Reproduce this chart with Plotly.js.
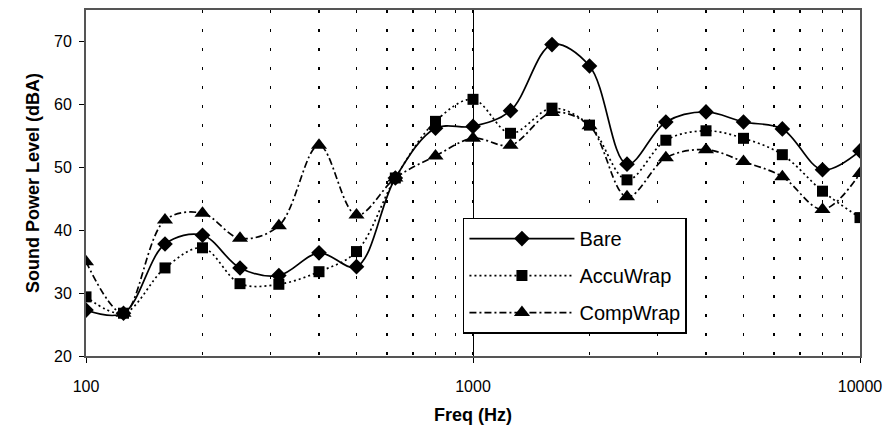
<!DOCTYPE html>
<html><head><meta charset="utf-8">
<script src="https://cdn.plot.ly/plotly-3.0.1.min.js"></script>
<style>body{margin:0;background:#fff}#c{width:890px;height:433px}</style>
</head><body><div id="c"></div>
<script>
const freq = [100,125,160,200,250,315,400,500,630,800,1000,1250,1600,2000,2500,3150,4000,5000,6300,8000,10000];
const bare = [27.3,26.8,37.8,39.2,34.0,32.8,36.4,34.2,48.3,56.2,56.5,59.0,69.5,66.1,50.5,57.2,58.8,57.2,56.1,49.6,52.6];
const accuWrap = [29.4,26.8,34.0,37.2,31.5,31.4,33.4,36.6,48.3,57.3,60.8,55.4,59.4,56.7,48.0,54.3,55.8,54.6,52.0,46.2,42.0];
const compWrap = [35.0,26.8,41.6,42.7,38.7,40.7,53.5,42.4,48.3,51.8,54.6,53.5,58.7,56.6,45.3,51.5,52.8,50.9,48.5,43.3,49.0];
const names = ['Bare','AccuWrap','CompWrap'];

const font = 'Arial, "Liberation Sans", sans-serif';
function tr(y, name, sym, size, dash){
  return {x: freq, y: y, name: name, legendgroup: name, type: 'scatter', mode: 'lines+markers',
    line: {color: '#000', width: 1.7, shape: 'spline', smoothing: 1, dash: dash},
    marker: {symbol: sym, size: size, color: '#000'}};
}
const data = [
  tr(bare, names[0], 'diamond', 12, 'solid'),
  tr(accuWrap, names[1], 'square', 11, '2px,3px'),
  tr(compWrap, names[2], 'triangle-up', 14, '7px,3px,2px,3px')
];
const layout = {
  width: 890, height: 433,
  margin: {l: 86, r: 30, t: 10, b: 77},
  paper_bgcolor: '#fff', plot_bgcolor: '#fff',
  font: {family: font, color: '#000', size: 16},
  showlegend: true,
  legend: {x: 0.487, y: 0.40, xanchor: 'left', yanchor: 'top',
    bordercolor: '#000', borderwidth: 1.5, bgcolor: '#fff',
    font: {size: 20, family: font}, itemwidth: 105, tracegroupgap: 8},
  xaxis: {type: 'log', range: [2, 4],
    tickvals: [100, 1000, 10000], ticktext: ['100','1000','10000'],
    ticks: 'outside', ticklen: 5, tickcolor: '#000', ticklabelstandoff: 10,
    showgrid: true, gridcolor: '#000', gridwidth: 1,
    minor: {dtick: 'D1', showgrid: true, gridcolor: '#000', griddash: '3px,16px', gridwidth: 1.5, ticks: ''},
    showline: true, linecolor: '#555', linewidth: 2, mirror: true,
    zeroline: false,
    title: {text: '<b>Freq (Hz)</b>', font: {size: 18, family: font}, standoff: 14},
    tickfont: {size: 16}},
  yaxis: {range: [20, 75], dtick: 10, tick0: 20,
    ticks: 'outside', ticklen: 5, tickcolor: '#000', ticklabelstandoff: 4,
    showgrid: false, zeroline: false,
    showline: true, linecolor: '#555', linewidth: 2, mirror: true,
    title: {text: '<b>Sound Power Level (dBA)</b>', font: {size: 18, family: font}, standoff: 10},
    tickfont: {size: 16}}
};
Plotly.newPlot('c', data, layout, {displayModeBar: false, staticPlot: true});
</script></body></html>
